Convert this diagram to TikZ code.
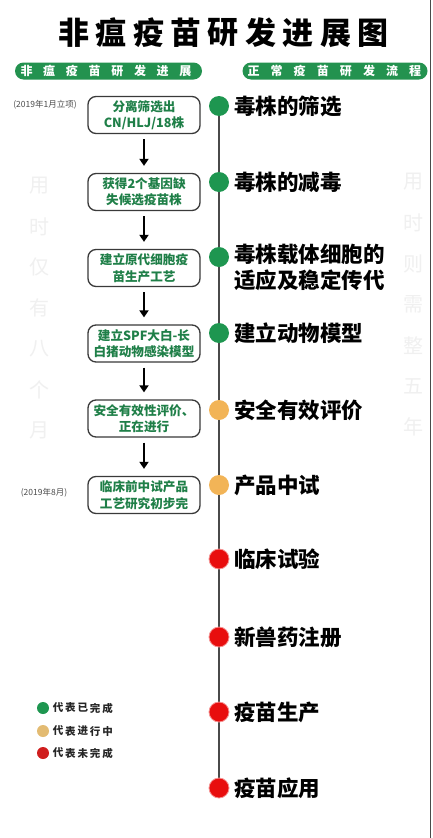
\documentclass[tikz,border=0pt]{standalone}
\usepackage{fontspec}
\newfontfamily\cjk{Noto Sans CJK SC}
\usetikzlibrary{arrows.meta}
\definecolor{dotgreen}{HTML}{1E9650}
\definecolor{bannergreen}{HTML}{23924F}
\definecolor{boxtext}{HTML}{1F7F48}
\definecolor{boxgray}{HTML}{3A3A3A}
\definecolor{dotorange}{HTML}{F2B457}
\definecolor{dotred}{HTML}{E80E0E}
\definecolor{legtan}{HTML}{E3BB72}
\definecolor{legred}{HTML}{D01E1E}
\definecolor{faint}{HTML}{F0F0F0}
\definecolor{linegray}{HTML}{4A4A4A}
\tikzset{
  stepbox/.style={draw=boxgray, line width=1.3pt, rounded corners=8pt, minimum width=112pt, minimum height=37pt, text=boxtext, font=\cjk\bfseries\fontsize{12.6}{16.5}\selectfont, align=center, inner sep=0pt},
  dot/.style={circle, minimum size=20pt, inner sep=0pt},
  legdot/.style={circle, minimum size=12pt, inner sep=0pt},
  stagelabel/.style={anchor=west, font=\cjk\bfseries\fontsize{21.5}{26}\selectfont, text=black, align=left, inner sep=0pt},
  faintchar/.style={font=\cjk\fontsize{20}{20}\selectfont, text=faint, inner sep=0pt},
  bannerchar/.style={font=\cjk\bfseries\fontsize{12}{12}\selectfont, text=white, inner sep=0pt},
  legchar/.style={font=\cjk\bfseries\fontsize{10.5}{10.5}\selectfont, text=black!85, inner sep=0pt},
  datelabel/.style={font=\cjk\fontsize{8.5}{10}\selectfont, text=black!70, inner sep=0pt},
  flow/.style={line width=2.8pt, -{Triangle[width=9pt,length=7pt]}, shorten <=5pt, shorten >=7pt},
}
\begin{document}
\begin{tikzpicture}[x=1pt,y=-1pt]
\useasboundingbox (0,0) rectangle (432,838);
\fill[white] (0,0) rectangle (432,838);
\draw[linegray, line width=1.5pt] (430.5,0) coordinate (edgetop) -- (430.5,838) coordinate (edgebot);

% title
\foreach \c [count=\i from 0] in {非,瘟,疫,苗,研,发,进,展,图}
  \node[font=\cjk\bfseries\fontsize{31}{31}\selectfont, inner sep=0pt] (title\i) at ({73.7+37.4*\i},33) {\c};

% banners
\node[fill=bannergreen, rounded corners=8.5pt, minimum width=187pt, minimum height=17pt, inner sep=0pt] (bannerL) at (108.5,71) {};
\node[fill=bannergreen, rounded corners=8.5pt, minimum width=185pt, minimum height=17pt, inner sep=0pt] (bannerR) at (335,71) {};
\foreach \c [count=\i from 0] in {非,瘟,疫,苗,研,发,进,展}
  \node[bannerchar] (bl\i) at ({26.5+22.7*\i},71) {\c};
\foreach \c [count=\i from 0] in {正,常,疫,苗,研,发,流,程}
  \node[bannerchar] (br\i) at ({253.5+23.1*\i},71) {\c};

% faint vertical texts
\foreach \c [count=\i from 0] in {用,时,仅,有,八,个,月}
  \node[faintchar] (fl\i) at (39,{186+40.7*\i}) {\c};
\foreach \c [count=\i from 0] in {用,时,则,需,整,五,年}
  \node[faintchar] (fr\i) at (413,{182+40.8*\i}) {\c};

% left boxes
\node[stepbox] (b1) at (144,115) {分离筛选出\\CN/HLJ/18株};
\node[stepbox] (b2) at (144,192) {获得2个基因缺\\失候选疫苗株};
\node[stepbox] (b3) at (144,268) {建立原代细胞疫\\苗生产工艺};
\node[stepbox] (b4) at (144,343.5) {建立SPF大白-长\\白猪动物感染模型};
\node[stepbox] (b5) at (144,418.5) {安全有效性评价、\\正在进行};
\node[stepbox] (b6) at (144,495) {临床前中试产品\\工艺研究初步完};
\foreach \a/\b in {b1/b2,b2/b3,b3/b4,b4/b5,b5/b6}
  \draw[flow] (\a) -- (\b);

\node[datelabel] (date1) at (45,105) {(2019年1月立项)};
\node[datelabel] (date2) at (44,493) {(2019年8月)};

% timeline
\draw[linegray, line width=1.4pt] (219,106) coordinate (ltop) -- (219,788) coordinate (lbot);
\node[dot, fill=dotgreen] (d1) at (219,106) {};
\node[dot, fill=dotgreen] (d2) at (219,182) {};
\node[dot, fill=dotgreen] (d3) at (219,257) {};
\node[dot, fill=dotgreen] (d4) at (219,333) {};
\node[dot, fill=dotorange] (d5) at (219,410) {};
\node[dot, fill=dotorange] (d6) at (219,485) {};
\node[dot, fill=dotred, draw=dotred!45, line width=0.8pt] (d7) at (219,559) {};
\node[dot, fill=dotred, draw=dotred!45, line width=0.8pt] (d8) at (219,637) {};
\node[dot, fill=dotred, draw=dotred!45, line width=0.8pt] (d9) at (219,712) {};
\node[dot, fill=dotred, draw=dotred!45, line width=0.8pt] (d10) at (219,788) {};

\node[stagelabel] (s1) at (234,106) {毒株的筛选};
\node[stagelabel] (s2) at (234,182) {毒株的减毒};
\node[stagelabel, anchor=north west] (s3) at (234,244) {毒株载体细胞的\\适应及稳定传代};
\node[stagelabel] (s4) at (234,333) {建立动物模型};
\node[stagelabel] (s5) at (234,410) {安全有效评价};
\node[stagelabel] (s6) at (234,485) {产品中试};
\node[stagelabel] (s7) at (234,559) {临床试验};
\node[stagelabel] (s8) at (234,637) {新兽药注册};
\node[stagelabel] (s9) at (234,712) {疫苗生产};
\node[stagelabel] (s10) at (234,788) {疫苗应用};

% legend
\node[legdot, fill=dotgreen] (lg1) at (43,708) {};
\node[legdot, fill=legtan] (lg2) at (43,731) {};
\node[legdot, fill=legred] (lg3) at (43,753) {};
\foreach \c [count=\i from 0] in {代,表,已,完,成}
  \node[legchar] (la\i) at ({58+12.4*\i},708) {\c};
\foreach \c [count=\i from 0] in {代,表,进,行,中}
  \node[legchar] (lb\i) at ({58+12.4*\i},731) {\c};
\foreach \c [count=\i from 0] in {代,表,未,完,成}
  \node[legchar] (lc\i) at ({58+12.4*\i},753) {\c};
\end{tikzpicture}
\end{document}
